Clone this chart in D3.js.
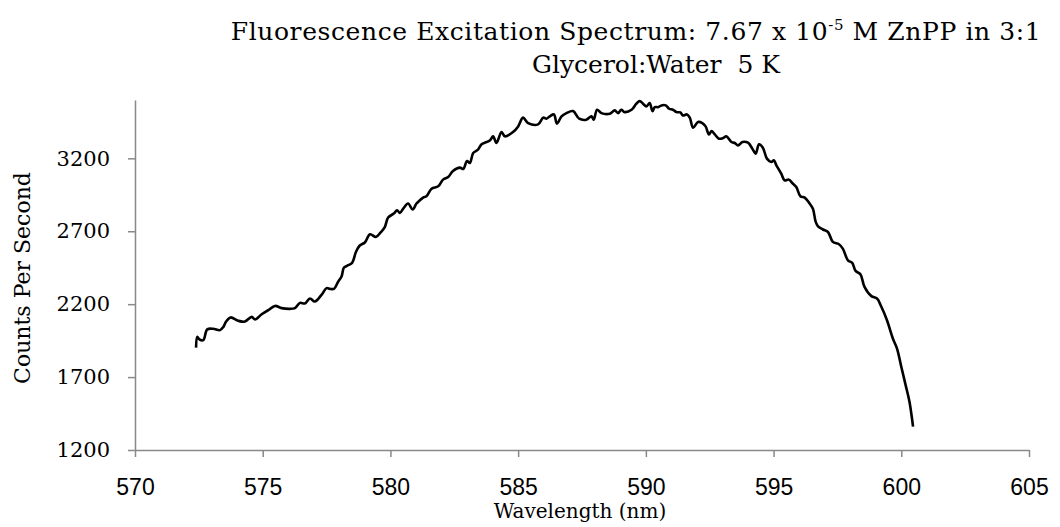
<!DOCTYPE html>
<html>
<head>
<meta charset="utf-8">
<script src="https://cdn.jsdelivr.net/npm/d3@7"></script>
<style>
  body { margin: 0; background: #fff; }
  svg { display: block; }
</style>
</head>
<body>
<svg id="chart" width="1060" height="527"></svg>
<script>
// wavelength (nm)
var wavelength = [572.39, 572.44, 572.52, 572.67, 572.83, 573.06, 573.33, 573.46, 573.56, 573.74,
  574.04, 574.30, 574.57, 574.70, 574.96, 575.22, 575.48, 575.74, 576.07, 576.26,
  576.46, 576.65, 576.85, 577.04, 577.31, 577.50, 577.63, 577.79, 577.95, 578.09,
  578.18, 578.35, 578.50, 578.65, 578.80, 579.00, 579.20, 579.43, 579.61, 579.78,
  579.91, 580.13, 580.26, 580.37, 580.50, 580.69, 580.87, 581.02, 581.12, 581.28,
  581.41, 581.61, 581.87, 582.06, 582.26, 582.45, 582.72, 582.85, 583.00, 583.11,
  583.24, 583.43, 583.57, 583.89, 584.02, 584.15, 584.35, 584.48, 584.80, 585.00,
  585.19, 585.39, 585.78, 585.98, 586.11, 586.24, 586.40, 586.52, 586.70, 586.89,
  587.15, 587.39, 587.67, 587.87, 587.96, 588.09, 588.26, 588.59, 588.78, 588.91,
  589.04, 589.17, 589.44, 589.63, 589.76, 589.89, 590.02, 590.15, 590.26, 590.35,
  590.48, 590.61, 590.78, 590.91, 591.06, 591.20, 591.35, 591.45, 591.61, 591.72,
  591.85, 592.04, 592.21, 592.34, 592.47, 592.57, 592.70, 592.86, 593.02, 593.15,
  593.35, 593.48, 593.61, 593.78, 594.00, 594.17, 594.30, 594.43, 594.58, 594.74,
  594.91, 595.01, 595.11, 595.30, 595.43, 595.60, 595.73, 595.89, 596.05, 596.22,
  596.41, 596.54, 596.65, 596.74, 596.93, 597.13, 597.32, 597.56, 597.71, 597.91,
  598.08, 598.21, 598.40, 598.56, 598.83, 599.05, 599.22, 599.44, 599.67, 599.83,
  600.00, 600.17, 600.32, 600.41, 600.46];

// counts per second
var counts = [1902, 1976, 1958, 1953, 2027, 2031, 2022, 2044, 2079, 2109,
  2086, 2081, 2113, 2095, 2131, 2159, 2188, 2173, 2168, 2173,
  2209, 2205, 2239, 2218, 2266, 2310, 2305, 2305, 2353, 2392,
  2451, 2467, 2483, 2558, 2602, 2623, 2679, 2661, 2691, 2729,
  2794, 2821, 2844, 2825, 2855, 2890, 2849, 2890, 2907, 2931,
  2940, 2992, 3008, 3054, 3072, 3113, 3136, 3127, 3181, 3168,
  3236, 3260, 3296, 3323, 3351, 3305, 3380, 3351, 3380, 3419,
  3479, 3442, 3433, 3479, 3472, 3488, 3501, 3438, 3488, 3510,
  3524, 3472, 3465, 3488, 3465, 3533, 3510, 3506, 3529, 3510,
  3533, 3517, 3533, 3575, 3592, 3575, 3556, 3579, 3524, 3551,
  3551, 3563, 3563, 3540, 3533, 3517, 3515, 3494, 3501, 3479,
  3410, 3449, 3442, 3419, 3364, 3387, 3364, 3335, 3339, 3351,
  3312, 3305, 3289, 3312, 3307, 3266, 3232, 3296, 3273, 3198,
  3175, 3186, 3152, 3095, 3049, 3054, 3031, 3003, 2940, 2931,
  2890, 2855, 2764, 2734, 2712, 2695, 2627, 2611, 2581, 2501,
  2483, 2428, 2405, 2318, 2255, 2239, 2182, 2090, 1965, 1897,
  1771, 1645, 1531, 1428, 1360];

var xTicks = [570, 575, 580, 585, 590, 595, 600, 605];
var yTicks = [1200, 1700, 2200, 2700, 3200];

var svg = d3.select("#chart");

// plot box (note: "top" is taken by window.top, so use other names)
var plotLeft = 135, plotRight = 1029, plotTop = 100, plotBottom = 450;

var x = d3.scaleLinear().domain([570, 605]).range([plotLeft, plotRight]);
var y = d3.scaleLinear().domain([1200, 3600]).range([plotBottom, plotTop]);

var serif = "'DejaVu Serif', Georgia, serif";
var axisGray = "#898989";

// title, two lines
var title = svg.append("text")
  .attr("text-anchor", "middle")
  .attr("font-family", serif)
  .attr("font-size", 25)
  .attr("fill", "#000");
var t1 = title.append("tspan").attr("x", 636).attr("y", 40).attr("letter-spacing", 0.6);
t1.append("tspan").text("Fluorescence Excitation Spectrum: 7.67 x 10");
t1.append("tspan").attr("font-size", 15).attr("dy", -10).text("-5");
t1.append("tspan").attr("dy", 10).text(" M ZnPP in 3:1");
title.append("tspan").attr("x", 656).attr("y", 73).attr("xml:space", "preserve")
  .text("Glycerol:Water  5 K");

// y axis
var yAxis = svg.append("g")
  .attr("transform", "translate(" + plotLeft + ",0)")
  .call(d3.axisLeft(y).tickValues(yTicks).tickFormat(d3.format("d"))
    .tickSizeInner(7).tickSizeOuter(0).tickPadding(18));
yAxis.select(".domain").attr("stroke", axisGray).attr("stroke-width", 1.5);
yAxis.selectAll(".tick line").attr("stroke", axisGray).attr("stroke-width", 1.5);
yAxis.selectAll(".tick text")
  .attr("font-family", serif).attr("font-size", 21).attr("fill", "#000");

// x axis
var xAxis = svg.append("g")
  .attr("transform", "translate(0," + plotBottom + ")")
  .call(d3.axisBottom(x).tickValues(xTicks).tickSizeInner(7).tickSizeOuter(0).tickPadding(22));
xAxis.select(".domain").attr("stroke", axisGray).attr("stroke-width", 1.5);
xAxis.selectAll(".tick line").attr("stroke", axisGray).attr("stroke-width", 1.5);
xAxis.selectAll(".tick text")
  .attr("font-family", "'Liberation Sans', Arial, sans-serif").attr("font-size", 23).attr("fill", "#000");

// axis titles
svg.append("text")
  .attr("x", 580).attr("y", 518)
  .attr("text-anchor", "middle")
  .attr("font-family", serif).attr("font-size", 20)
  .text("Wavelength (nm)");

svg.append("text")
  .attr("transform", "translate(30,278) rotate(-90)")
  .attr("text-anchor", "middle")
  .attr("font-family", serif).attr("font-size", 22)
  .text("Counts Per Second");

// the spectrum
var pts = wavelength.map(function(w, i) { return [w, counts[i]]; });
var line = d3.line()
  .x(function(d) { return x(d[0]); })
  .y(function(d) { return y(d[1]); })
  .curve(d3.curveCatmullRom.alpha(0.5));

svg.append("path")
  .datum(pts)
  .attr("d", line)
  .attr("fill", "none")
  .attr("stroke", "#000")
  .attr("stroke-width", 2.6)
  .attr("stroke-linejoin", "round");
</script>
</body>
</html>
